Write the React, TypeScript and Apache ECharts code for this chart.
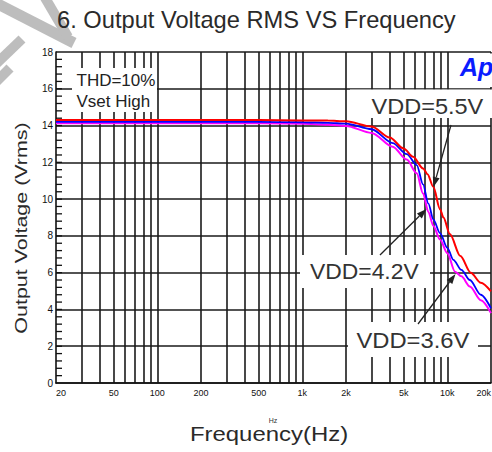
import React, { useEffect, useRef } from "react";
import * as echarts from "echarts";

// vertical grid line frequencies (Hz)
const gridFreqs = [
  30, 40, 50, 60, 70, 80, 90, 100, 200, 300, 400, 500, 600, 700, 800, 900, 1000,
  2000, 3000, 4000, 5000, 6000, 7000, 8000, 9000, 10000, 20000,
];
// labelled frequencies
const labelFreqs = [20, 50, 100, 200, 500, 1000, 2000, 5000, 10000, 20000];
// small inward ticks on the voltage axis (Vrms)
const yMinorTicks = [
  0.4, 0.8, 1.2, 1.6, 2, 2.4, 2.8, 3.2, 3.6, 4, 4.4, 4.8, 5.2, 5.6, 6, 6.4, 6.8, 7.2, 7.6, 8,
  8.4, 8.8, 9.2, 9.6, 10, 10.4, 10.8, 11.2, 11.6, 12, 12.4, 12.8, 13.2, 13.6, 14, 14.4, 14.8,
  15.2, 15.6, 16, 16.4, 16.8, 17.2, 17.6,
];

// VDD = 5.5V (red)
const freq55 = [20, 100, 500, 1000, 1500, 2000, 3000, 4000, 5000, 5800, 6800, 7300, 8000, 8900, 9400, 10400, 12300, 14500, 17000, 20000];
const volt55 = [14.3, 14.3, 14.3, 14.28, 14.27, 14.23, 13.95, 13.35, 12.75, 12.3, 11.67, 11.35, 10.67, 9.45, 9.0, 8.1, 6.9, 6.0, 5.45, 4.98];

// VDD = 4.2V (blue)
const freq42 = [20, 100, 500, 1000, 1500, 2000, 3000, 4200, 5250, 6150, 6800, 7400, 8000, 8900, 10000, 11000, 12500, 14300, 17000, 20000];
const volt42 = [14.2, 14.2, 14.2, 14.18, 14.15, 14.1, 13.8, 13.05, 12.45, 11.85, 10.8, 9.75, 8.9, 8.15, 7.35, 6.7, 6.15, 5.6, 4.8, 4.06];

// VDD = 3.6V (magenta)
const freq36 = [20, 100, 500, 1000, 1500, 2000, 3000, 4200, 5250, 6150, 6800, 7400, 8000, 8900, 10000, 11300, 12500, 14300, 17000, 20000];
const volt36 = [14.12, 14.12, 14.12, 14.1, 14.05, 13.98, 13.6, 12.85, 12.15, 11.4, 10.3, 9.3, 8.55, 7.8, 7.05, 6.05, 5.8, 5.25, 4.5, 3.8];

const FONT = '"Liberation Sans", Arial, Helvetica, sans-serif';

function fmtFreq(v: number): string {
  const r = Math.round(v);
  return r >= 1000 ? r / 1000 + "k" : String(r);
}

function zip(xs: number[], ys: number[]) {
  return xs.map((x, i) => [x, ys[i]]);
}

function arrow(x1: number, y1: number, x2: number, y2: number) {
  const dx = x2 - x1;
  const dy = y2 - y1;
  const L = Math.hypot(dx, dy);
  const ux = dx / L;
  const uy = dy / L;
  const len = 10;
  const hw = 3.5;
  const bx = x2 - ux * len;
  const by = y2 - uy * len;
  return [
    { type: "line", z: 110, shape: { x1, y1, x2: bx, y2: by }, style: { stroke: "#222", lineWidth: 1.3 } },
    {
      type: "polygon",
      z: 110,
      shape: { points: [[x2, y2], [bx - uy * hw, by + ux * hw], [bx + uy * hw, by - ux * hw]] },
      style: { fill: "#222" },
    },
  ];
}

function whiteBox(x: number, y: number, w: number, h: number) {
  return { type: "rect", z: 100, shape: { x, y, width: w, height: h }, style: { fill: "#fff" } };
}

function label(text: string, x: number, y: number, size: number, scaleX = 1, fill = "#333") {
  return {
    type: "text",
    z: 105,
    x,
    y,
    scaleX,
    style: { text, fontSize: size, fontFamily: FONT, fill, align: "left", verticalAlign: "middle" },
  };
}

export default function App() {
  const ref = useRef<HTMLDivElement>(null);

  useEffect(() => {
    if (!ref.current) return;
    const chart = echarts.init(ref.current, null, { renderer: "svg" });
    const wm = "#bdbdbd";
    const option: any = {
      animation: false,
      backgroundColor: "#fff",
      grid: { left: 56, right: 1, top: 52, bottom: 69, containLabel: false, outerBoundsMode: "none" },
      xAxis: {
        type: "log",
        logBase: 10,
        min: 20,
        max: 20000,
        axisLine: { show: true, lineStyle: { color: "#111", width: 1.6 } },
        axisTick: { show: false, customValues: gridFreqs },
        axisLabel: {
          customValues: labelFreqs,
          formatter: (v: number) => fmtFreq(v),
          fontSize: 9,
          fontFamily: FONT,
          color: "#111",
          margin: 5,
          alignMinLabel: "left",
          alignMaxLabel: "right",
          showMinLabel: true,
          showMaxLabel: true,
        },
        splitLine: { show: true, lineStyle: { color: "#1a1a1a", width: 1.6 } },
        minorTick: { show: false },
        minorSplitLine: { show: false },
      },
      yAxis: {
        type: "value",
        min: 0,
        max: 18,
        interval: 2,
        axisLine: { show: true, lineStyle: { color: "#111", width: 1.6 } },
        axisTick: { show: false },
        axisLabel: { fontSize: 10, fontFamily: FONT, color: "#111", margin: 3 },
        splitLine: { show: true, lineStyle: { color: "#1a1a1a", width: 1.6 } },
      },
      series: [
        {
          name: "yticks",
          type: "custom",
          silent: true,
          clip: false,
          z: 6,
          data: yMinorTicks.map((v) => [20, v]),
          renderItem: (params: any, api: any) => {
            const p = api.coord([api.value(0), api.value(1)]);
            return {
              type: "line",
              shape: { x1: p[0], y1: p[1], x2: p[0] + 6, y2: p[1] },
              style: { stroke: "#111", lineWidth: 1.3 },
            };
          },
        },
        {
          name: "VDD=3.6V",
          type: "line",
          data: zip(freq36, volt36),
          showSymbol: false,
          smooth: 0.3,
          smoothMonotone: "x",
          lineStyle: { color: "#ff00ff", width: 2 },
          z: 3,
        },
        {
          name: "VDD=4.2V",
          type: "line",
          data: zip(freq42, volt42),
          showSymbol: false,
          smooth: 0.3,
          smoothMonotone: "x",
          lineStyle: { color: "#0000ff", width: 1.8 },
          z: 4,
        },
        {
          name: "VDD=5.5V",
          type: "line",
          data: zip(freq55, volt55),
          showSymbol: false,
          smooth: 0.3,
          smoothMonotone: "x",
          lineStyle: { color: "#ff0000", width: 2 },
          z: 5,
        },
      ],
      graphic: [
        // watermark fragment
        { type: "polyline", z: 1, shape: { points: [[-6, 2], [74, 43]] }, style: { stroke: wm, lineWidth: 11, fill: null } },
        { type: "polyline", z: 1, shape: { points: [[44, -4], [68, 37]] }, style: { stroke: wm, lineWidth: 10, fill: null } },
        { type: "polyline", z: 1, shape: { points: [[-4, 64], [22, 39]] }, style: { stroke: wm, lineWidth: 10, fill: null } },
        { type: "polyline", z: 1, shape: { points: [[-4, 82], [10, 68]] }, style: { stroke: wm, lineWidth: 10, fill: null } },
        // title
        {
          type: "text",
          z: 5,
          x: 57,
          y: 20,
          scaleX: 1.03,
          style: { text: "6. Output Voltage RMS VS Frequency", fontSize: 23, fontFamily: FONT, fill: "#2a2a2a", align: "left", verticalAlign: "middle" },
        },
        // axis names
        {
          type: "text",
          z: 5,
          x: 21,
          y: 228,
          rotation: Math.PI / 2,
          scaleX: 1.3,
          style: { text: "Output Voltage (Vrms)", fontSize: 16.5, fontFamily: FONT, fill: "#2a2a2a", align: "center", verticalAlign: "middle" },
        },
        {
          type: "text",
          z: 5,
          x: 269,
          y: 434,
          scaleX: 1.14,
          style: { text: "Frequency(Hz)", fontSize: 21, fontFamily: FONT, fill: "#2a2a2a", align: "center", verticalAlign: "middle" },
        },
        {
          type: "text",
          z: 5,
          x: 273,
          y: 420,
          style: { text: "Hz", fontSize: 7, fontFamily: FONT, fill: "#333", align: "center", verticalAlign: "middle" },
        },
        // boxes
        whiteBox(72, 68, 85, 44),
        label("THD=10%", 76.5, 80, 17, 1, "#222"),
        label("Vset High", 76.5, 101, 17, 1, "#222"),
        whiteBox(452, 53.5, 40, 33.5),
        {
          type: "text",
          z: 105,
          x: 460,
          y: 67,
          style: { text: "Ap", fontSize: 25, fontWeight: "bold", fontStyle: "italic", fontFamily: FONT, fill: "#0a1cff", align: "left", verticalAlign: "middle" },
        },
        whiteBox(350, 89.5, 142, 28.5),
        label("VDD=5.5V", 371.5, 106, 22, 1.07),
        whiteBox(300, 255, 130, 33),
        label("VDD=4.2V", 310, 271.7, 22, 1.04),
        whiteBox(348, 322, 130, 35),
        label("VDD=3.6V", 356.5, 340, 22, 1.08),
        ...arrow(451, 125, 433.5, 187),
        ...arrow(380, 255, 426.5, 209),
        ...arrow(418, 324, 455.5, 274),
      ],
    };
    chart.setOption(option);
    return () => chart.dispose();
  }, []);

  return (
    <div
      ref={ref}
      style={{ position: "absolute", left: 0, top: 0, width: 492, height: 452, background: "#fff" }}
    />
  );
}
